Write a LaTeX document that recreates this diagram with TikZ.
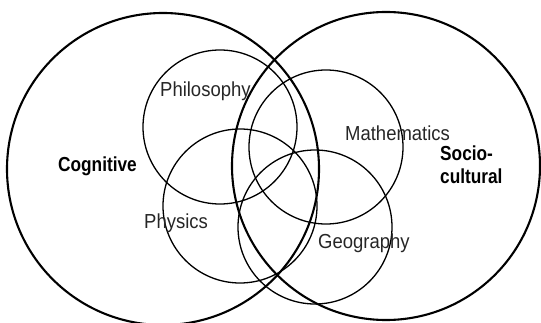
\documentclass[tikz,border=0pt]{standalone}
\usepackage{fontspec}
\setmainfont{Liberation Sans}[FakeStretch=0.91,BoldFeatures={FakeStretch=0.85}]
\begin{document}
\begin{tikzpicture}[x=1pt,y=-1pt,
  big/.style={draw=black,line width=2.1pt},
  small/.style={draw=black,line width=1.3pt},
  lbl/.style={font=\fontsize{20.3}{22}\selectfont,text=black!85,inner sep=0pt,anchor=base west},
  blbl/.style={font=\bfseries\fontsize{20.3}{23}\selectfont,inner sep=0pt,anchor=base west}]
\useasboundingbox (0,0) rectangle (541,323);
\path[clip] (0,0) rectangle (541,323);
\node[big,circle,minimum size=312pt,inner sep=0pt] (cog) at (163,169) {};
\node[big,circle,minimum size=308pt,inner sep=0pt] (soc) at (386,166) {};
\node[small,circle,minimum size=154pt,inner sep=0pt] (phil) at (220,127) {};
\node[small,circle,minimum size=154pt,inner sep=0pt] (phys) at (240,206) {};
\node[small,circle,minimum size=154pt,inner sep=0pt] (math) at (326,147) {};
\node[small,circle,minimum size=154pt,inner sep=0pt] (geo) at (315,227) {};
\node[lbl] (tphil) at (160,97) {Philosophy};
\node[lbl] (tmath) at (345,141) {Mathematics};
\node[lbl] (tphys) at (144,229) {Physics};
\node[lbl] (tgeo) at (318,249) {Geography};
\node[blbl] (tcog) at (58,172) {Cognitive};
\node[blbl] (tsoc1) at (440,161) {Socio-};
\node[blbl] (tsoc2) at (440,184) {cultural};
\end{tikzpicture}
\end{document}
